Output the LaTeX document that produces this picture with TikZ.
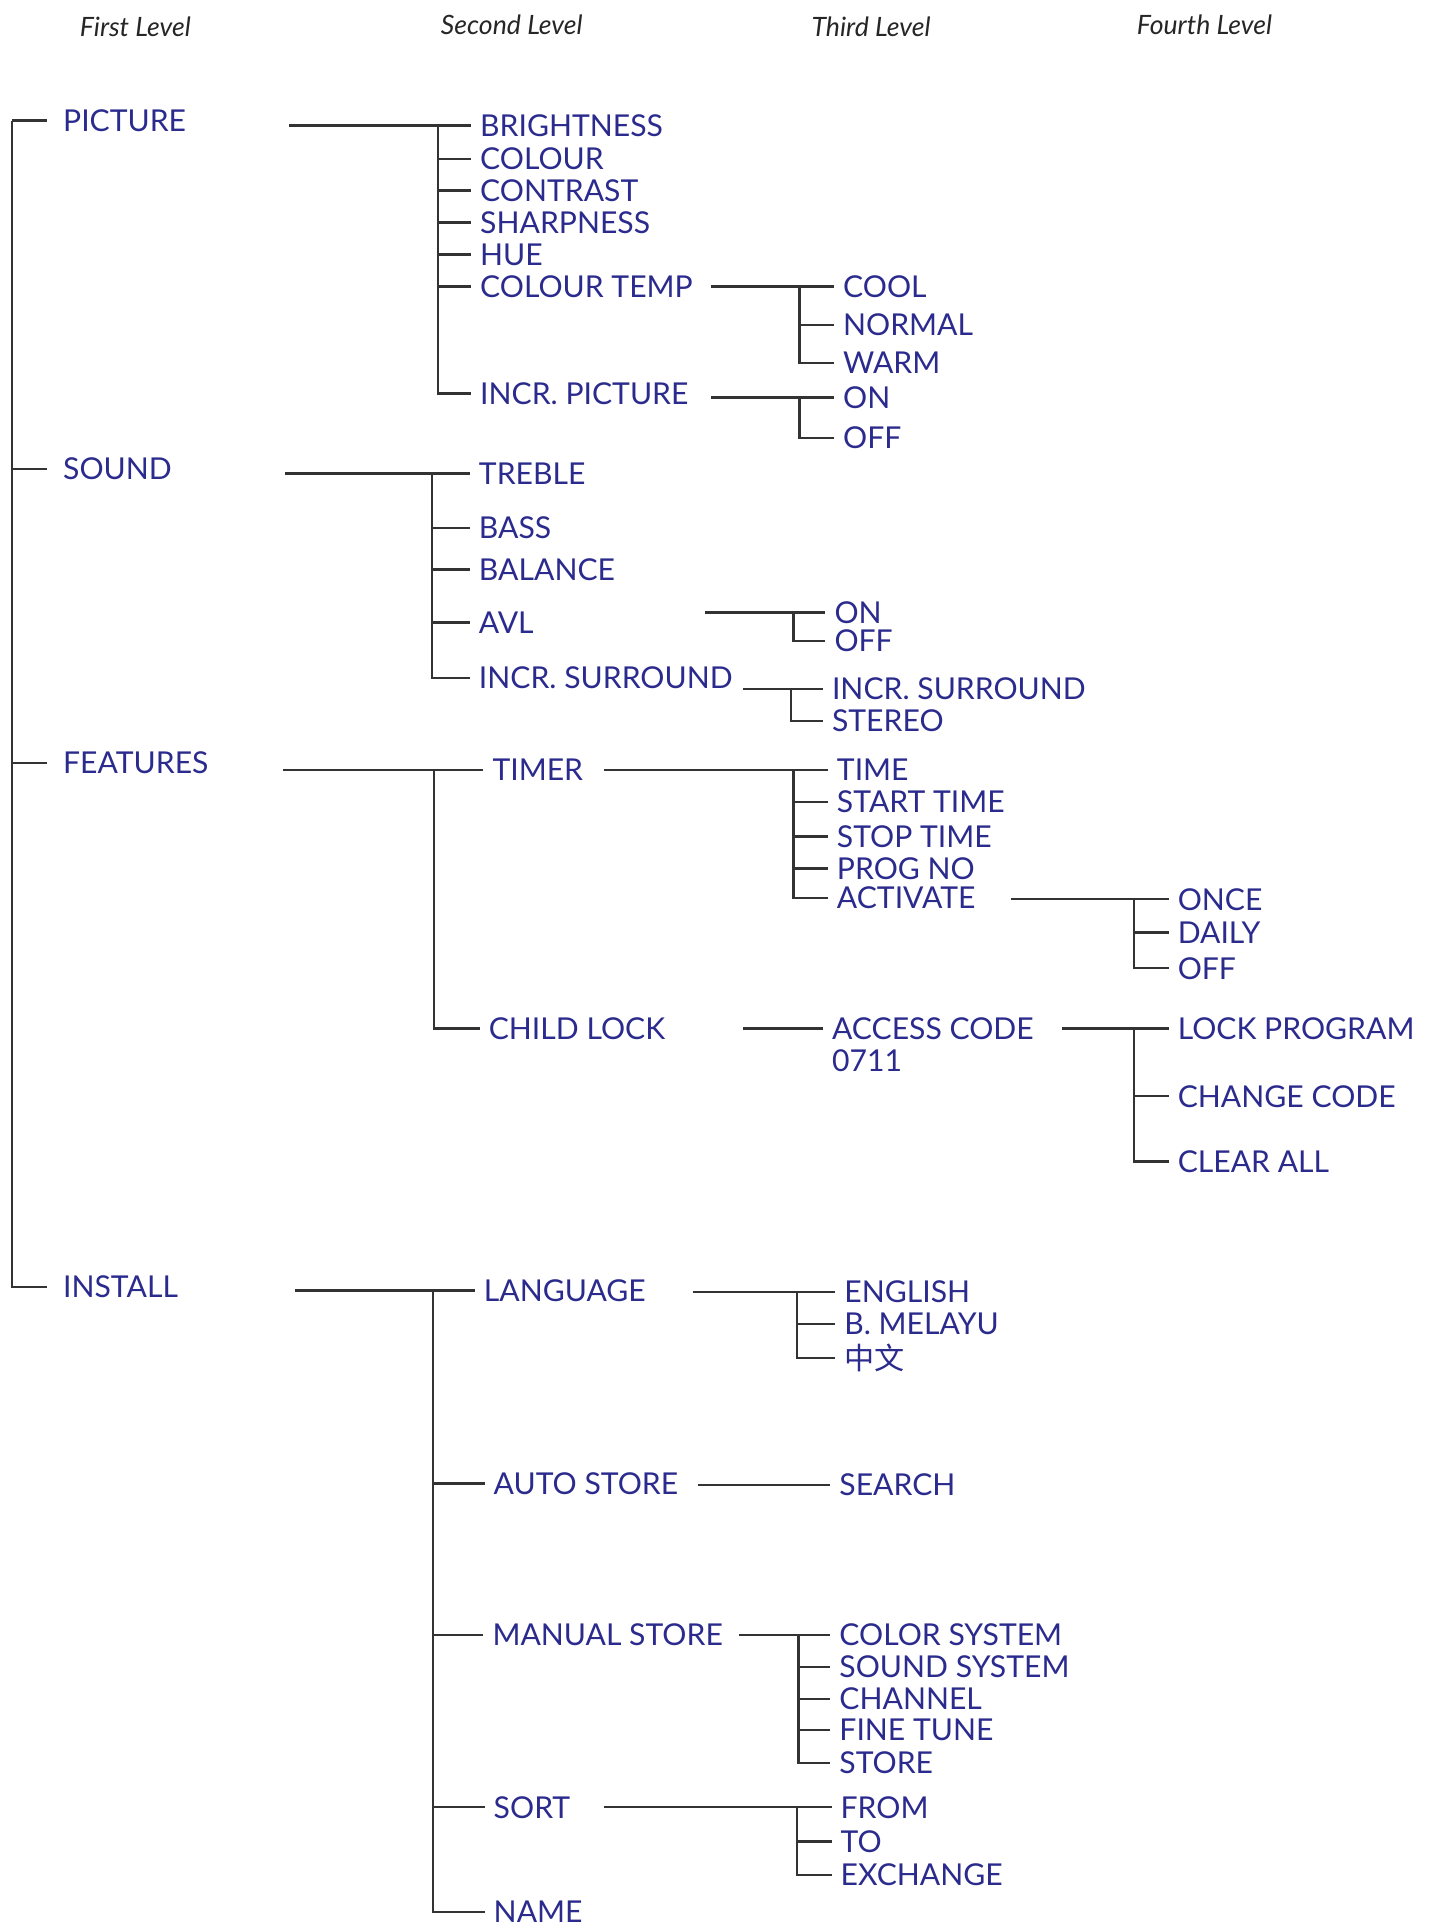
\documentclass[tikz,border=0pt]{standalone}
\usepackage{fontspec}
\setmainfont{Lato}
\newfontfamily\cjk{Noto Sans CJK SC}
\usetikzlibrary{positioning,calc}
\definecolor{menublue}{HTML}{2B2B8E}

\begin{document}
\begin{tikzpicture}[
  x=0.6pt, y=-0.6pt,
  item/.style={anchor=west, inner xsep=4.2pt, inner ysep=0pt, text height=10.6pt, text depth=0pt, text=menublue, font=\fontsize{14.7}{15}\selectfont},
  topitem/.style={item, inner xsep=7.8pt},
  levelhead/.style={font=\itshape\fontsize{13}{13}\selectfont, text=black!85},
  branch/.style={line width=1.15pt, draw=black!80},
]
\useasboundingbox (0,0) rectangle (1171,1568);

% level headings
\node[levelhead] (head-1) at (110,22) {First Level};
\node[levelhead] (head-2) at (416,20) {Second Level};
\node[levelhead] (head-3) at (708,22) {Third Level};
\node[levelhead] (head-4) at (979,20) {Fourth Level};

% first level
\node[topitem] (picture) at (38,98) {PICTURE};
\node[topitem] (sound) at (38,381) {SOUND};
\node[topitem] (features) at (38,620) {FEATURES};
\node[topitem] (install) at (38,1046) {INSTALL};
\coordinate (root) at (10,98);
\draw[branch] (root) -- (picture.west);
\draw[branch] (root) |- (install.west);
\draw[branch] (root |- sound.west) -- (sound.west);
\draw[branch] (root |- features.west) -- (features.west);

% picture
\node[item] (brightness) at (383,102) {BRIGHTNESS};
\node[item] (colour) at (383,129) {COLOUR};
\node[item] (contrast) at (383,155) {CONTRAST};
\node[item] (sharpness) at (383,181) {SHARPNESS};
\node[item] (hue) at (383,207) {HUE};
\node[item] (colourtemp) at (383,233) {COLOUR TEMP};
\node[item] (incrpicture) at (383,320) {INCR. PICTURE};
\coordinate (picture-out) at (235,102);
\coordinate (picture-fork) at (356,102);
\draw[branch] (picture-out) -- (brightness.west);
\draw[branch] (picture-fork) |- (incrpicture.west);
\draw[branch] (picture-fork |- colour.west) -- (colour.west);
\draw[branch] (picture-fork |- contrast.west) -- (contrast.west);
\draw[branch] (picture-fork |- sharpness.west) -- (sharpness.west);
\draw[branch] (picture-fork |- hue.west) -- (hue.west);
\draw[branch] (picture-fork |- colourtemp.west) -- (colourtemp.west);

\node[item] (cool) at (678,233) {COOL};
\node[item] (normal) at (678,264) {NORMAL};
\node[item] (warm) at (678,295) {WARM};
\coordinate (temp-out) at (578,233);
\coordinate (temp-fork) at (650,233);
\draw[branch] (temp-out) -- (cool.west);
\draw[branch] (temp-fork) |- (warm.west);
\draw[branch] (temp-fork |- normal.west) -- (normal.west);

\node[item] (pic-on) at (678,323) {ON};
\node[item] (pic-off) at (678,356) {OFF};
\coordinate (incrpic-out) at (578,323);
\coordinate (incrpic-fork) at (650,323);
\draw[branch] (incrpic-out) -- (pic-on.west);
\draw[branch] (incrpic-fork) |- (pic-off.west);

% sound
\node[item] (treble) at (382,385) {TREBLE};
\node[item] (bass) at (382,429) {BASS};
\node[item] (balance) at (382,463) {BALANCE};
\node[item] (avl) at (382,506) {AVL};
\node[item] (incrsurround) at (382,551) {INCR. SURROUND};
\coordinate (sound-out) at (232,385);
\coordinate (sound-fork) at (351,385);
\draw[branch] (sound-out) -- (treble.west);
\draw[branch] (sound-fork) |- (incrsurround.west);
\draw[branch] (sound-fork |- bass.west) -- (bass.west);
\draw[branch] (sound-fork |- balance.west) -- (balance.west);
\draw[branch] (sound-fork |- avl.west) -- (avl.west);

\node[item] (avl-on) at (671,498) {ON};
\node[item] (avl-off) at (671,521) {OFF};
\coordinate (avl-out) at (573,498);
\coordinate (avl-fork) at (645,498);
\draw[branch] (avl-out) -- (avl-on.west);
\draw[branch] (avl-fork) |- (avl-off.west);

\node[item] (surround) at (669,560) {INCR. SURROUND};
\node[item] (stereo) at (669,586) {STEREO};
\coordinate (surround-out) at (604,560);
\coordinate (surround-fork) at (643,560);
\draw[branch] (surround-out) -- (surround.west);
\draw[branch] (surround-fork) |- (stereo.west);

% features
\node[item] (timer) at (393,626) {TIMER};
\node[item] (childlock) at (390,836) {CHILD LOCK};
\coordinate (features-out) at (230,626);
\coordinate (features-fork) at (353,626);
\draw[branch] (features-out) -- (timer.west);
\draw[branch] (features-fork) |- (childlock.west);

\node[item] (time) at (673,626) {TIME};
\node[item] (starttime) at (673,652) {START TIME};
\node[item] (stoptime) at (673,680) {STOP TIME};
\node[item] (progno) at (673,706) {PROG NO};
\node[item] (activate) at (673,730) {ACTIVATE};
\coordinate (timer-out) at (491,626);
\coordinate (timer-fork) at (645,626);
\draw[branch] (timer-out) -- (time.west);
\draw[branch] (timer-fork) |- (activate.west);
\draw[branch] (timer-fork |- starttime.west) -- (starttime.west);
\draw[branch] (timer-fork |- stoptime.west) -- (stoptime.west);
\draw[branch] (timer-fork |- progno.west) -- (progno.west);

\node[item] (once) at (950,731) {ONCE};
\node[item] (daily) at (950,758) {DAILY};
\node[item] (act-off) at (950,787) {OFF};
\coordinate (activate-out) at (822,731);
\coordinate (activate-fork) at (922,731);
\draw[branch] (activate-out) -- (once.west);
\draw[branch] (activate-fork) |- (act-off.west);
\draw[branch] (activate-fork |- daily.west) -- (daily.west);

\node[item] (accesscode) at (669,836) {ACCESS CODE};
\node[item] (codeval) at (669,862) {0711};
\coordinate (childlock-out) at (604,836);
\draw[branch] (childlock-out) -- (accesscode.west);

\node[item] (lockprog) at (950,836) {LOCK PROGRAM};
\node[item] (changecode) at (950,891) {CHANGE CODE};
\node[item] (clearall) at (950,944) {CLEAR ALL};
\coordinate (access-out) at (863,836);
\coordinate (access-fork) at (922,836);
\draw[branch] (access-out) -- (lockprog.west);
\draw[branch] (access-fork) |- (clearall.west);
\draw[branch] (access-fork |- changecode.west) -- (changecode.west);

% install
\node[item] (language) at (386,1049) {LANGUAGE};
\node[item] (autostore) at (394,1206) {AUTO STORE};
\node[item] (manualstore) at (393,1329) {MANUAL STORE};
\node[item] (sort) at (394,1469) {SORT};
\node[item] (name) at (394,1554) {NAME};
\coordinate (install-out) at (240,1049);
\coordinate (install-fork) at (352,1049);
\draw[branch] (install-out) -- (language.west);
\draw[branch] (install-fork) |- (name.west);
\draw[branch] (install-fork |- autostore.west) -- (autostore.west);
\draw[branch] (install-fork |- manualstore.west) -- (manualstore.west);
\draw[branch] (install-fork |- sort.west) -- (sort.west);

\node[item] (english) at (679,1050) {ENGLISH};
\node[item] (melayu) at (679,1076) {B. MELAYU};
\node[item] (chinese) at (679,1104) {\cjk 中文};
\coordinate (language-out) at (563,1050);
\coordinate (language-fork) at (648,1050);
\draw[branch] (language-out) -- (english.west);
\draw[branch] (language-fork) |- (chinese.west);
\draw[branch] (language-fork |- melayu.west) -- (melayu.west);

\node[item] (search) at (675,1207) {SEARCH};
\coordinate (autostore-out) at (567,1207);
\draw[branch] (autostore-out) -- (search.west);

\node[item] (colorsys) at (675,1329) {COLOR SYSTEM};
\node[item] (soundsys) at (675,1355) {SOUND SYSTEM};
\node[item] (channel) at (675,1381) {CHANNEL};
\node[item] (finetune) at (675,1406) {FINE TUNE};
\node[item] (store) at (675,1433) {STORE};
\coordinate (manual-out) at (601,1329);
\coordinate (manual-fork) at (649,1329);
\draw[branch] (manual-out) -- (colorsys.west);
\draw[branch] (manual-fork) |- (store.west);
\draw[branch] (manual-fork |- soundsys.west) -- (soundsys.west);
\draw[branch] (manual-fork |- channel.west) -- (channel.west);
\draw[branch] (manual-fork |- finetune.west) -- (finetune.west);

\node[item] (from) at (676,1469) {FROM};
\node[item] (to) at (676,1497) {TO};
\node[item] (exchange) at (676,1524) {EXCHANGE};
\coordinate (sort-out) at (491,1469);
\coordinate (sort-fork) at (648,1469);
\draw[branch] (sort-out) -- (from.west);
\draw[branch] (sort-fork) |- (exchange.west);
\draw[branch] (sort-fork |- to.west) -- (to.west);

\end{tikzpicture}
\end{document}
